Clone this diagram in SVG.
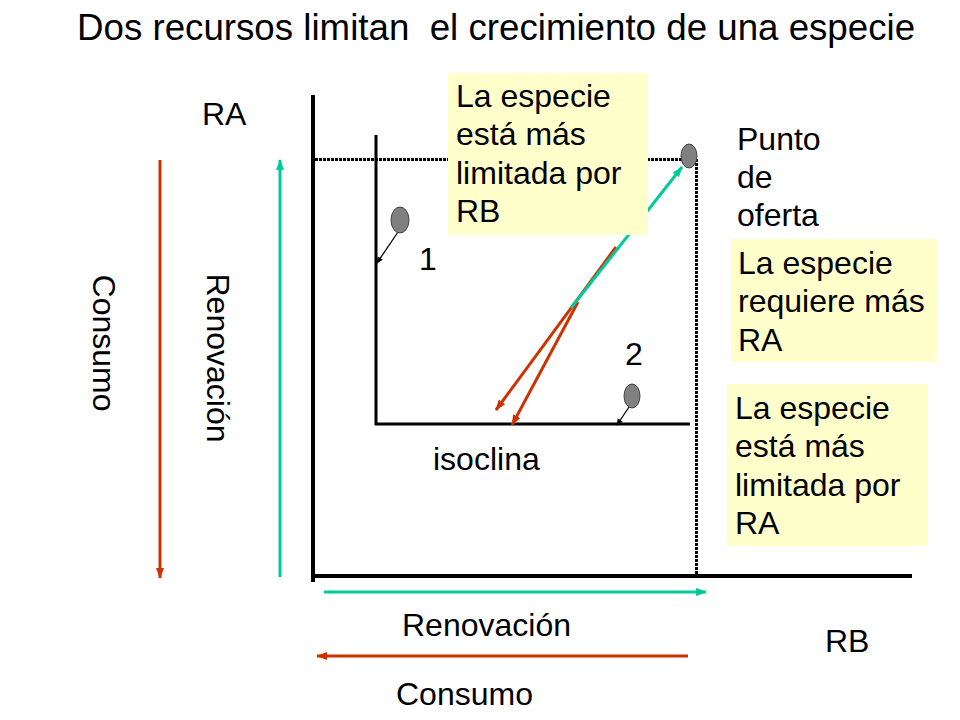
<svg xmlns="http://www.w3.org/2000/svg" width="960" height="720" viewBox="0 0 960 720">
<style>
text{font-family:"Liberation Sans",Arial,sans-serif;fill:#000}
.t{font-size:36.7px;white-space:pre}
.l{font-size:32px}
.box{fill:#FFFFCC;stroke:none}
.ax{stroke:#000;fill:none}
.dot{stroke:#000;stroke-width:3;stroke-dasharray:3 1;fill:none}
.red{stroke:#CC3300;stroke-width:3;fill:none}
.grn{stroke:#00CC99;stroke-width:3;fill:none}
.blk{stroke:#000;stroke-width:1.3;fill:none}
.pt{fill:#808080;stroke:#404040;stroke-width:1}
</style>
<defs>
<marker id="ar" markerUnits="userSpaceOnUse" markerWidth="12" markerHeight="10" refX="10" refY="5" orient="auto"><path d="M0,1 L11,5 L0,9 Z" fill="#CC3300"/></marker>
<marker id="ag" markerUnits="userSpaceOnUse" markerWidth="12" markerHeight="10" refX="10" refY="5" orient="auto"><path d="M0,1 L11,5 L0,9 Z" fill="#00CC99"/></marker>
<marker id="ab" markerUnits="userSpaceOnUse" markerWidth="8" markerHeight="8" refX="6" refY="4" orient="auto"><path d="M0,1 L7,4 L0,7 Z" fill="#000"/></marker>
</defs>
<text class="t" x="77" y="40">Dos recursos limitan  el crecimiento de una especie</text>
<g id="axes">
<line class="ax" x1="313" y1="95" x2="313" y2="582" stroke-width="4"/>
<line class="ax" x1="311" y1="576" x2="912" y2="576" stroke-width="4"/>
<line class="dot" x1="315" y1="159.5" x2="694" y2="159.5"/>
<line class="dot" x1="696.5" y1="159" x2="696.5" y2="574"/>
</g>
<g id="isoclina">
<path class="ax" stroke-width="3" d="M376,135 L376,424 L690,424"/>
<text class="l" x="433" y="470">isoclina</text>
</g>
<g id="labels">
<text class="l" x="202" y="125">RA</text>
<text class="l" x="825" y="652">RB</text>
<text class="l" x="419" y="270">1</text>
<text class="l" x="625" y="365">2</text>
<text class="l" x="402" y="636">Renovación</text>
<text class="l" x="396" y="705">Consumo</text>
<text class="l" text-anchor="middle" transform="translate(93,343) rotate(90)">Consumo</text>
<text class="l" text-anchor="middle" transform="translate(207,358) rotate(90)">Renovación</text>
</g>
<g id="connectors">
<line class="red" x1="160" y1="160" x2="160" y2="578" marker-end="url(#ar)"/>
<line class="grn" x1="280" y1="577" x2="280" y2="160" marker-end="url(#ag)"/>
<line class="grn" x1="324" y1="592" x2="706" y2="592" marker-end="url(#ag)"/>
<line class="red" x1="688" y1="656" x2="317" y2="656" marker-end="url(#ar)"/>
<line class="red" x1="616" y1="247" x2="496" y2="410" marker-end="url(#ar)"/>
<line class="red" x1="578" y1="302" x2="512" y2="425" marker-end="url(#ar)"/>
<line class="grn" x1="571" y1="308" x2="682" y2="167" marker-end="url(#ag)"/>
<line class="blk" x1="398" y1="232" x2="377" y2="263" marker-end="url(#ab)"/>
<line class="blk" x1="629" y1="407" x2="617" y2="425" marker-end="url(#ab)"/>
</g>
<g id="puntos">
<ellipse class="pt" cx="689" cy="156" rx="8" ry="12"/>
<ellipse class="pt" cx="400" cy="220" rx="9" ry="13"/>
<ellipse class="pt" cx="632" cy="396" rx="8" ry="12"/>
</g>
<g id="box1">
<rect class="box" x="448" y="73" width="200" height="162"/>
<text class="l" x="456"><tspan x="456" y="107">La especie</tspan><tspan x="456" y="145">está más</tspan><tspan x="456" y="184">limitada por</tspan><tspan x="456" y="222">RB</tspan></text>
</g>
<g id="punto-oferta">
<text class="l"><tspan x="737" y="150">Punto</tspan><tspan x="737" y="188">de</tspan><tspan x="737" y="226">oferta</tspan></text>
</g>
<g id="box2">
<rect class="box" x="731" y="239" width="206" height="123"/>
<text class="l"><tspan x="738" y="274">La especie</tspan><tspan x="738" y="312">requiere más</tspan><tspan x="738" y="351">RA</tspan></text>
</g>
<g id="box3">
<rect class="box" x="727" y="384" width="201" height="162"/>
<text class="l"><tspan x="735" y="419">La especie</tspan><tspan x="735" y="457">está más</tspan><tspan x="735" y="496">limitada por</tspan><tspan x="735" y="534">RA</tspan></text>
</g>
</svg>
